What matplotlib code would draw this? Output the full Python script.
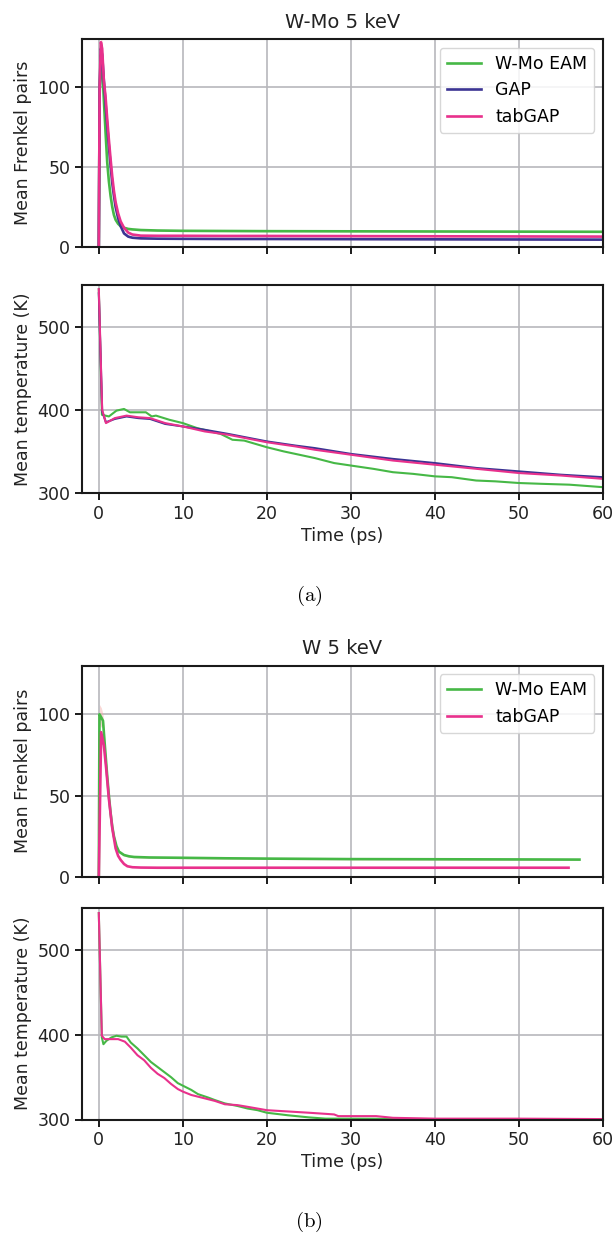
import numpy as np
import matplotlib
matplotlib.use("Agg")
import matplotlib.pyplot as plt

plt.rcParams["font.family"] = ["DejaVu Sans"]
plt.rcParams["mathtext.fontset"] = "cm"

# colours
c_eam = "#46b846"
c_gap = "#3b3493"
c_tab = "#e8318c"
c_band = "#f3a9a4"

# ---- (a) W-Mo 5 keV: Frenkel pairs ----
t_fp_a = [0, 0.1, 0.25, 0.4, 0.6, 0.8, 1.0, 1.2, 1.4, 1.6, 1.8, 2.0, 2.3, 2.6,
          3.0, 3.5, 4.0, 5.0, 7, 10, 15, 20, 30, 40, 50, 60]
fp_a_eam = [0, 95, 120, 114, 92, 72, 53, 41, 32, 25, 20, 17, 14.5, 13,
            12, 11.3, 11, 10.6, 10.3, 10.1, 10, 9.9, 9.8, 9.7, 9.6, 9.5]
fp_a_gap = [0, 98, 124, 120, 104, 90, 76, 63, 51, 40, 32, 25, 18, 13,
            8.5, 6.5, 5.8, 5.4, 5.2, 5.1, 5.0, 5.0, 4.9, 4.8, 4.7, 4.6]
fp_a_tab = [0, 100, 128, 124, 104, 94, 80, 67, 55, 44, 35, 28, 21, 16,
            12, 9, 7.8, 7.1, 7.0, 7.0, 6.9, 6.9, 6.8, 6.7, 6.6, 6.5]
sd_a = [0, 4, 5, 4, 3, 3, 2, 2, 2, 1.5, 1.5, 1.2, 1, 1,
        0.8, 0.6, 0.5, 0.5, 0.4, 0.4, 0.4, 0.4, 0.4, 0.4, 0.4, 0.4]

# ---- (a) W-Mo 5 keV: temperature ----
t_T_a_eam = [0, 0.37, 1.2, 2.1, 3.0, 3.7, 5.6, 6.3, 6.8, 8.4, 10, 11.7, 14.5, 15.9,
             17.3, 20, 22, 25.7, 28, 30, 32.7, 35, 37.4, 40, 42, 44.9, 47.2, 50,
             52.8, 56, 60]
T_a_eam = [545, 394, 392, 399, 401, 397, 397, 392, 393, 388, 384, 378, 371, 364,
           363, 355, 350, 342, 336, 333, 329, 325, 323, 320, 319, 315, 314, 312,
           311, 310, 307]
t_T_a = [0, 0.4, 0.85, 1.9, 3.3, 4.7, 6.1, 7.9, 10, 12.6, 15.4, 20, 23.4, 25.7,
         30, 35, 40, 45, 50, 55, 60]
T_a_gap = [540, 398, 385, 389, 392, 390, 389, 383, 380, 376, 371, 362, 357, 354,
           347, 341, 336, 330, 326, 322, 319]
T_a_tab = [545, 400, 384, 390, 393, 391, 390, 384, 380, 374, 370, 361, 356, 352,
           346, 339, 334, 329, 324, 321, 317]

# ---- (b) W 5 keV: Frenkel pairs ----
t_fp_b_eam = [0, 0.08, 0.3, 0.5, 0.7, 1.0, 1.2, 1.4, 1.6, 1.8, 2.1, 2.4, 3.0, 3.6,
              4.2, 6, 10, 15, 20, 30, 40, 50, 57.2]
fp_b_eam = [0, 100, 98, 96, 82, 62, 50, 39.5, 31, 25, 19, 15.6, 13.5, 12.7,
            12.3, 12.0, 11.8, 11.5, 11.3, 11.0, 10.9, 10.8, 10.7]
sd_b_eam = [0, 6, 6, 4, 3, 2, 2, 1.5, 1.5, 1, 1, 0.8, 0.6, 0.6,
            0.5, 0.5, 0.5, 0.5, 0.5, 0.5, 0.5, 0.5, 0.5]
t_fp_b_tab = [0, 0.28, 0.6, 0.87, 1.2, 1.6, 2.0, 2.3, 2.6, 3.0, 3.4, 4.0, 5, 7,
              10, 20, 30, 40, 50, 55.9]
fp_b_tab = [0, 89, 81, 67, 48, 30, 17.6, 13, 10.5, 8, 6.6, 6.0, 5.8, 5.7,
            5.7, 5.7, 5.7, 5.7, 5.7, 5.7]

# ---- (b) W 5 keV: temperature ----
t_T_b_eam = [0, 0.36, 0.55, 0.9, 1.5, 2.1, 2.7, 3.3, 3.8, 4.6, 5.4, 6.2, 7.0, 7.8,
             8.6, 9.4, 10, 11, 11.8, 13, 13.8, 15, 16.5, 17.7, 18.9, 20, 22.5, 25,
             27, 30, 40, 50, 60]
T_b_eam = [544, 397, 389, 393, 397, 399, 398, 398, 391, 384, 376, 368, 362, 356,
           350, 343, 340, 335, 330, 326, 323, 319, 316, 313, 311, 308, 305, 302.5,
           301, 301, 300.5, 300.5, 300.5]
t_T_b_tab = [0, 0.36, 0.7, 1.5, 2.3, 3.1, 3.8, 4.6, 5.4, 6.2, 7.0, 7.8, 8.6, 9.4,
             10, 11, 12.2, 13.8, 15, 16.5, 17.7, 20, 25, 28, 28.5, 30, 33, 35, 40,
             50, 60]
T_b_tab = [544, 399, 395, 395, 395, 392, 385, 376, 370, 361, 354, 349, 342, 336,
           333, 329, 326, 322, 318, 317, 315, 311, 308, 306, 304, 304, 304, 302, 301,
           301, 300.5]

W, H = 614, 1234
fig = plt.figure(figsize=(W / 100, H / 100), dpi=100)

def box(top, bottom, left=82, right=603):
    return [left / W, 1 - bottom / H, (right - left) / W, (bottom - top) / H]

ax1 = fig.add_axes(box(39, 247))
ax2 = fig.add_axes(box(285, 493))
ax3 = fig.add_axes(box(665.5, 877))
ax4 = fig.add_axes(box(908, 1119.5))

txt = "#222222"
fs = 12.5

def style(ax, ylim, yticks, ylabel, xlabels):
    ax.set_xlim(-2, 60)
    ax.set_ylim(*ylim)
    ax.set_xticks([0, 10, 20, 30, 40, 50, 60])
    ax.set_yticks(yticks)
    ax.grid(True, color="#b7b7bc", lw=1.2)
    ax.set_axisbelow(True)
    for s in ax.spines.values():
        s.set_linewidth(1.5)
        s.set_color("#1a1a1a")
    ax.tick_params(axis="both", direction="out", length=5, width=1.4,
                   labelsize=fs, colors="#1a1a1a", labelcolor=txt)
    ax.set_ylabel(ylabel, fontsize=fs, color=txt)
    if xlabels:
        ax.set_xlabel("Time (ps)", fontsize=fs, color=txt, labelpad=3)
    else:
        ax.tick_params(axis="x", labelbottom=False)

# (a) Frenkel pairs
for y, c, lab in [(fp_a_eam, c_eam, "W-Mo EAM"), (fp_a_gap, c_gap, "GAP"),
                  (fp_a_tab, c_tab, "tabGAP")]:
    y = np.array(y)
    ax1.fill_between(t_fp_a, y - np.array(sd_a), y + np.array(sd_a),
                     color=c_band, alpha=0.45, lw=0)
    ax1.plot(t_fp_a, y, color=c, lw=1.9, label=lab)
style(ax1, (0, 130), [0, 50, 100], "Mean Frenkel pairs", False)
ax1.set_title("W-Mo 5 keV", fontsize=14, color=txt, pad=8)
ax1.legend(loc="upper right", fontsize=fs, frameon=True, edgecolor="#d0d0d0",
           framealpha=0.85, handlelength=2.0, borderaxespad=0.5)

# (a) temperature
ax2.plot(t_T_a_eam, T_a_eam, color=c_eam, lw=1.5)
ax2.plot(t_T_a, T_a_gap, color=c_gap, lw=1.5)
ax2.plot(t_T_a, T_a_tab, color=c_tab, lw=1.5)
style(ax2, (300, 550), [300, 400, 500], "Mean temperature (K)", True)

# (b) Frenkel pairs
ye = np.array(fp_b_eam)
ax3.fill_between(t_fp_b_eam, ye - np.array(sd_b_eam), ye + np.array(sd_b_eam),
                 color=c_band, alpha=0.45, lw=0)
ax3.plot(t_fp_b_eam, fp_b_eam, color=c_eam, lw=1.9, label="W-Mo EAM")
ax3.plot(t_fp_b_tab, fp_b_tab, color=c_tab, lw=1.9, label="tabGAP")
style(ax3, (0, 130), [0, 50, 100], "Mean Frenkel pairs", False)
ax3.set_title("W 5 keV", fontsize=14, color=txt, pad=8)
ax3.legend(loc="upper right", fontsize=fs, frameon=True, edgecolor="#d0d0d0",
           framealpha=0.85, handlelength=2.0, borderaxespad=0.5)

# (b) temperature
ax4.plot(t_T_b_eam, T_b_eam, color=c_eam, lw=1.5)
ax4.plot(t_T_b_tab, T_b_tab, color=c_tab, lw=1.5)
style(ax4, (300, 550), [300, 400, 500], "Mean temperature (K)", True)

fig.text(0.503, 1 - 596 / H, r"$\mathrm{(a)}$", fontsize=15, ha="center", va="center")
fig.text(0.503, 1 - 1222 / H, r"$\mathrm{(b)}$", fontsize=15, ha="center", va="center")

fig.savefig("out.png", dpi=100)
